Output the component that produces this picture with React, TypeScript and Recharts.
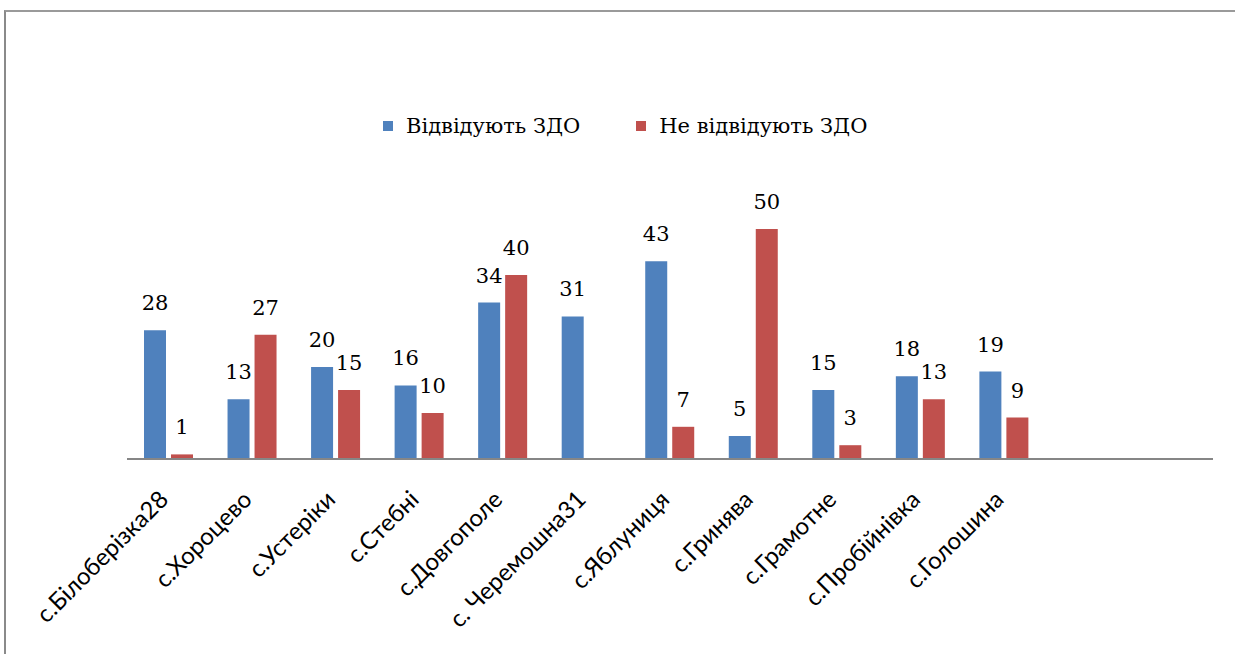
import { BarChart, Bar, XAxis, YAxis, LabelList } from 'recharts';

// villages (two empty slots at the end, as in the original sheet)
const villages = [
  'с.Білоберізка28',
  'с.Хороцево',
  'с.Устеріки',
  'с.Стебні',
  'с.Довгополе',
  'с. Черемошна31',
  'с.Яблуниця',
  'с.Гринява',
  'с.Грамотне',
  'с.Пробійнівка',
  'с.Голошина',
  '',
  '',
];
const attend = [28, 13, 20, 16, 34, 31, 43, 5, 15, 18, 19, null, null];
const notAttend = [1, 27, 15, 10, 40, 0, 7, 50, 3, 13, 9, null, null];

const seriesNames = ['Відвідують ЗДО', 'Не відвідують ЗДО'];
const colors = ['#4F81BD', '#C0504D'];

const serif = "'DejaVu Serif', serif";

const chartData = villages.map((name, i) => ({
  name,
  attend: attend[i],
  notAttend: notAttend[i],
}));

function VillageTick({ x, y, payload }: any) {
  if (!payload.value) return null;
  const ax = x + 1;
  const ay = y + 34;
  return (
    <text
      x={ax}
      y={ay}
      textAnchor="end"
      transform={`rotate(-45, ${ax}, ${ay})`}
      fill="#000"
      fontFamily="Lato, 'Open Sans', sans-serif"
      fontSize={24}
    >
      {payload.value}
    </text>
  );
}

function ChartLegend() {
  return (
    <div
      style={{
        position: 'absolute',
        left: 383,
        top: 111,
        display: 'flex',
        gap: 56,
        fontFamily: serif,
        fontSize: 21,
        lineHeight: '30px',
      }}
    >
      {seriesNames.map((n, i) => (
        <div key={n} style={{ display: 'flex', alignItems: 'center' }}>
          <span style={{ width: 10, height: 10, background: colors[i], marginRight: 13, display: 'inline-block' }} />
          <span>{n}</span>
        </div>
      ))}
    </div>
  );
}

export default function App() {
  return (
    <div style={{ position: 'absolute', left: 0, top: 0, width: 1235, height: 654, background: '#fff' }}>
      <div
        style={{
          position: 'absolute',
          left: 4,
          top: 10,
          width: 1231,
          height: 644,
          borderTop: '2px solid #9a9a9a',
          borderLeft: '2px solid #8a8a8a',
        }}
      />
      <ChartLegend />
      <BarChart
        width={1235}
        height={654}
        data={chartData}
        margin={{ top: 183, right: 22, bottom: 0, left: 127 }}
        barSize={22}
        barGap={5}
        style={{ position: 'absolute', left: 0, top: 0 }}
      >
        <XAxis
          dataKey="name"
          interval={0}
          height={195}
          tickLine={false}
          axisLine={{ stroke: '#868686', strokeWidth: 2 }}
          tick={<VillageTick />}
        />
        <YAxis hide domain={[0, 60]} />
        <Bar dataKey="attend" name={seriesNames[0]} fill={colors[0]} isAnimationActive={false}>
          <LabelList dataKey="attend" position="top" offset={20} fontFamily={serif} fontSize={21} fill="#000" />
        </Bar>
        <Bar dataKey="notAttend" name={seriesNames[1]} fill={colors[1]} isAnimationActive={false}>
          <LabelList dataKey="notAttend" position="top" offset={20} fontFamily={serif} fontSize={21} fill="#000" />
        </Bar>
      </BarChart>
    </div>
  );
}
